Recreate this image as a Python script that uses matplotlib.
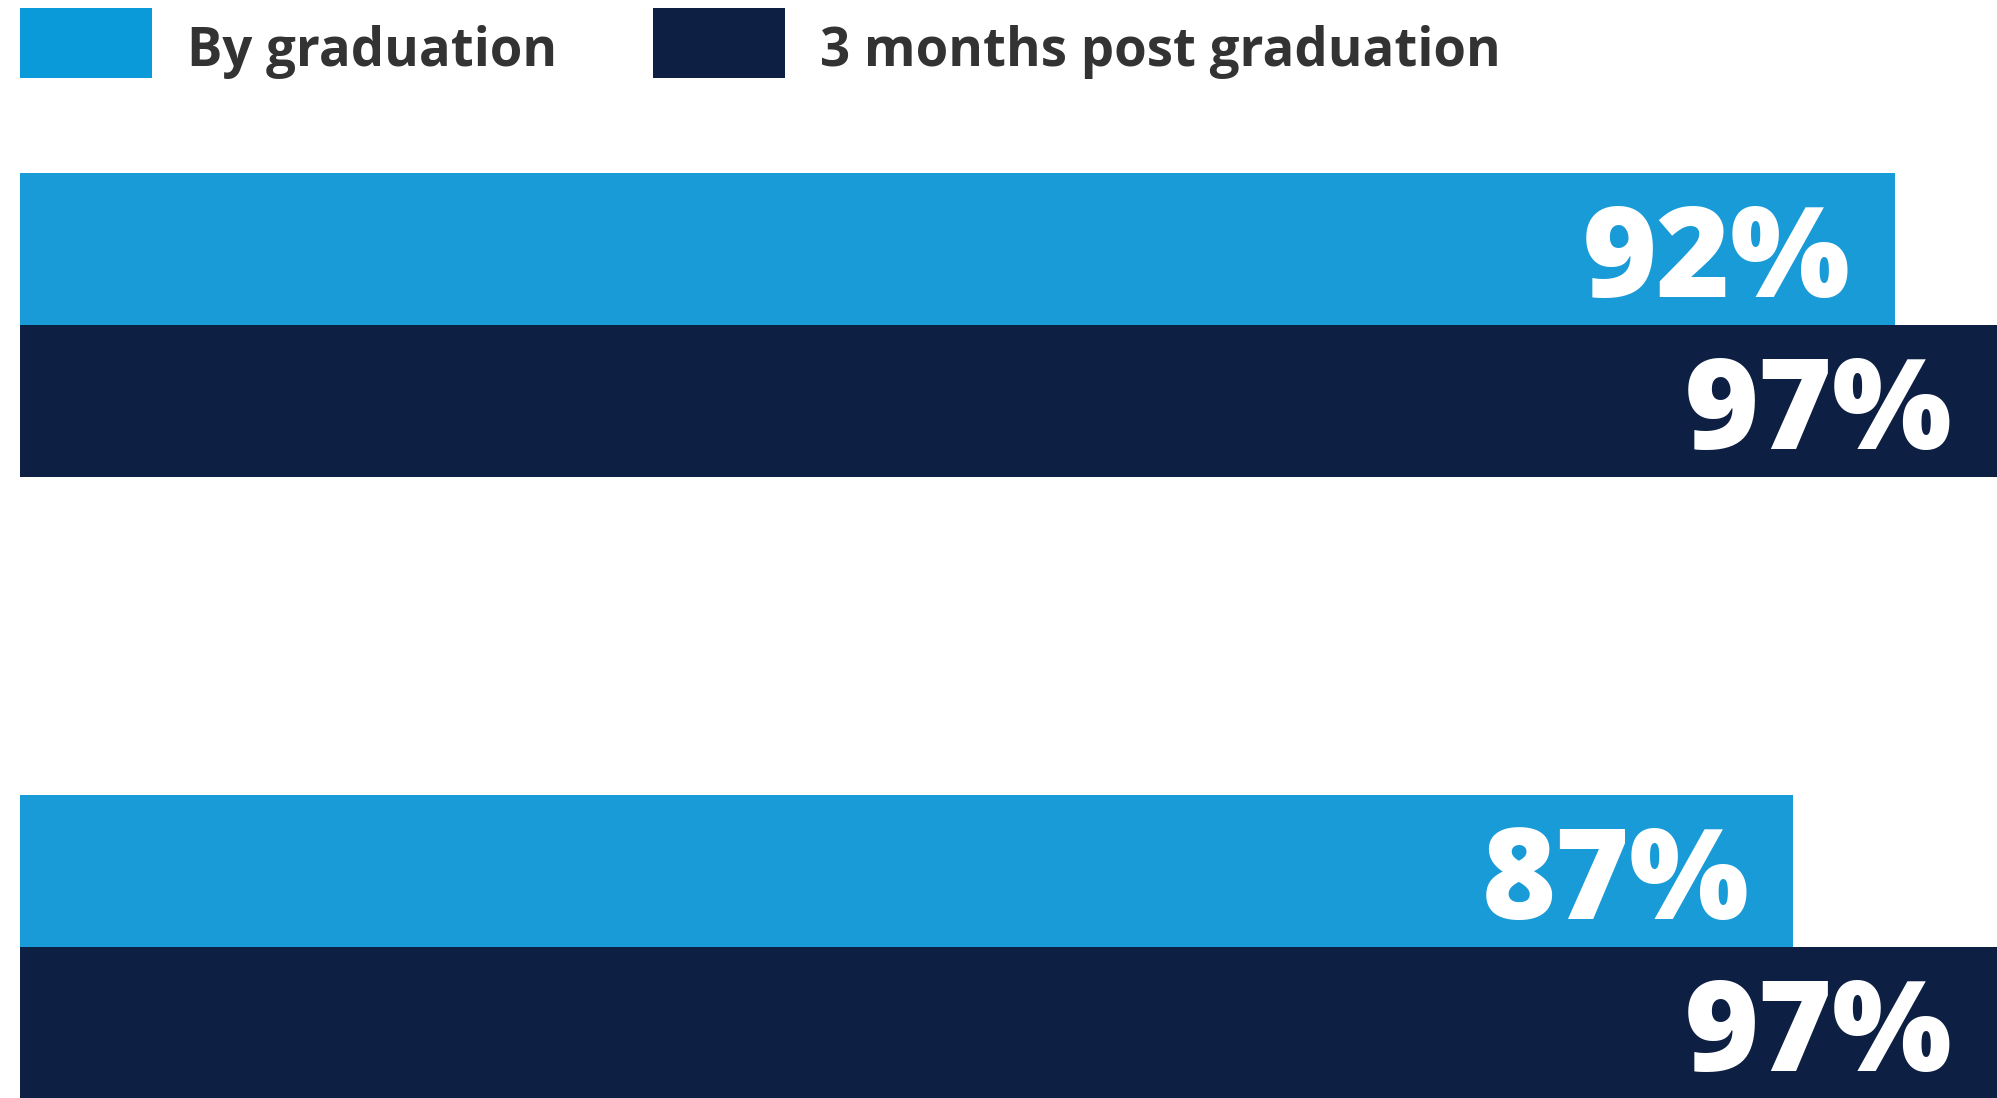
import matplotlib
matplotlib.use("Agg")
import matplotlib.pyplot as plt
from matplotlib.patches import Patch

series_names = ["By graduation", "3 months post graduation"]
by_graduation = [92, 87]
post_3_months = [97, 97]
groups = [0, 1]

BLUE = "#189BD7"
LEGEND_BLUE = "#0A9AD9"
NAVY = "#0D1F43"

W, H = 1997, 1098
fig = plt.figure(figsize=(W / 100, H / 100), dpi=100)
fig.patch.set_facecolor("white")
ax = fig.add_axes([20 / W, 0, (W - 20) / W, 1])
ax.set_xlim(0, 97.0)
ax.set_ylim(1.2428, -0.5225)
ax.axis("off")

h = 0.245
yb = [g - h / 2 for g in groups]
yd = [g + h / 2 for g in groups]
ax.barh(yb, by_graduation, height=h, color=BLUE, linewidth=0)
ax.barh(yd, post_3_months, height=h, color=NAVY, linewidth=0)

for vals, ys in ((by_graduation, yb), (post_3_months, yd)):
    for v, y in zip(vals, ys):
        ax.annotate(f"{v}%", xy=(v, y), xytext=(-44, -48), textcoords="offset pixels",
                    ha="right", va="baseline", color="white", fontsize=91,
                    fontfamily=["Open Sans", "DejaVu Sans"], fontweight="heavy",
                    annotation_clip=False)

handles = [Patch(facecolor=LEGEND_BLUE, edgecolor="none"),
           Patch(facecolor=NAVY, edgecolor="none")]
leg = fig.legend(handles, series_names, loc="upper left",
                 bbox_to_anchor=(20 / W, 1 - 8 / H), ncol=2, frameon=False,
                 prop={"family": ["Open Sans", "DejaVu Sans"], "weight": "bold", "size": 38},
                 handlelength=2.51, handleheight=1.66, handletextpad=0.65,
                 columnspacing=1.82, borderpad=0, borderaxespad=0)
for t in leg.get_texts():
    t.set_color("#333333")
    t.set_y(-6)

fig.savefig("out.png", dpi=100, facecolor="white")
